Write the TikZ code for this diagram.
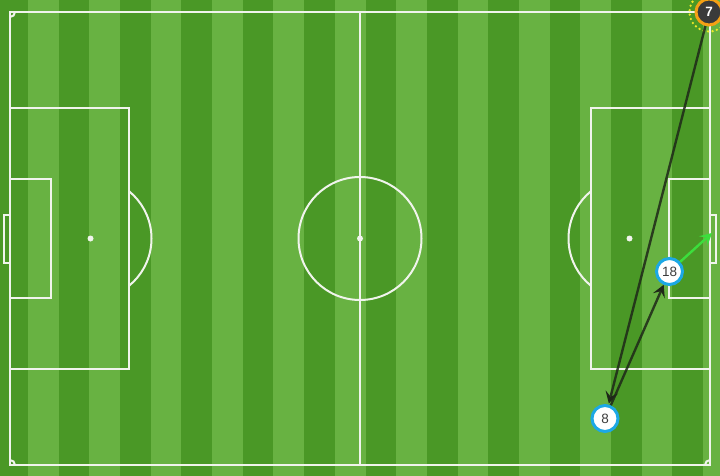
\documentclass[tikz,border=0pt]{standalone}
\usepackage{fontspec}
\setmainfont{Liberation Sans}
\usetikzlibrary{arrows.meta}
\definecolor{grassdark}{RGB}{74,152,38}
\definecolor{grasslight}{RGB}{104,178,66}
\definecolor{pitchline}{RGB}{240,244,236}
\definecolor{ringblue}{RGB}{28,168,230}
\definecolor{ringorange}{RGB}{245,160,20}
\definecolor{dotyellow}{RGB}{238,232,40}
\definecolor{passdark}{RGB}{30,40,24}
\definecolor{passgreen}{RGB}{60,222,60}
\definecolor{numgrey}{RGB}{60,60,60}
\definecolor{chipdark}{RGB}{58,58,58}
\begin{document}
\begin{tikzpicture}[x=1pt,y=-1pt,
  pline/.style={draw=pitchline, line width=2pt},
  chip/.style={circle, minimum size=26pt, inner sep=0pt, line width=3pt, font=\fontsize{13.5}{13.5}\selectfont},
  pass/.style={draw=passdark, draw opacity=0.85, line width=2.4pt, arrows={-Stealth[length=12pt,width=13pt,inset=5pt,line width=0pt]}},
  gpass/.style={pass, draw=passgreen, draw opacity=1}]
\useasboundingbox (0,0) rectangle (720,476);
% grass
\fill[grassdark] (0,0) rectangle (720,476);
\foreach \k in {0,2,...,22}
  \fill[grasslight] ({28+30.682*\k},0) rectangle ({min(28+30.682*(\k+1),720)},476);
% outline and halfway line
\draw[pline] (10,12) rectangle (710,465);
\draw[pline] (360,12) -- (360,465);
\draw[pline] (360,238.5) circle (61.5);
\fill[pitchline] (360,238.5) circle (3);
% left end
\draw[pline] (10,107.6) rectangle (129,369.4);
\draw[pline] (10,178.7) rectangle (50.6,298.3);
\fill[pitchline] (90.5,238.5) circle (3);
\begin{scope}
  \clip (130,150) rectangle (200,330);
  \draw[pline] (90.5,238.5) circle (61);
\end{scope}
\draw[pitchline, line width=1.5pt] (10,215) -- (4,215) -- (4,263) -- (10,263);
% right end
\draw[pline] (591,107.6) rectangle (710,369.4);
\draw[pline] (669.4,178.7) rectangle (710,298.3);
\fill[pitchline] (629.5,238.5) circle (3);
\begin{scope}
  \clip (520,150) rectangle (590,330);
  \draw[pline] (629.5,238.5) circle (61);
\end{scope}
\draw[pitchline, line width=1.5pt] (710,215) -- (716,215) -- (716,263) -- (710,263);
% corner arcs
\begin{scope}
  \clip (10,12) rectangle (20,22);
  \draw[pline] (10,12) circle (5);
\end{scope}
\begin{scope}
  \clip (10,465) rectangle (20,455);
  \draw[pline] (10,465) circle (5);
\end{scope}
\begin{scope}
  \clip (710,465) rectangle (700,455);
  \draw[pline] (710,465) circle (5);
\end{scope}
% players
\coordinate (c7) at (709,12);
\draw[dotyellow, line width=2.6pt, dash pattern=on 0pt off 4.5pt, line cap=round] (c7) circle (19.5);
\node[chip, draw=ringorange, fill=chipdark, text=white, font=\fontsize{13.5}{13.5}\selectfont\bfseries] (p7) at (c7) {7};
\node[chip, draw=ringblue, fill=white, text=numgrey] (p18) at (669.5,271.5) {18};
\node[chip, draw=ringblue, fill=white, text=numgrey] (p8) at (605,418.5) {8};
% passes
\coordinate (g) at (712,233);
\draw[pass, shorten >=1pt] (p7) -- (p8);
\draw[pass] (p8) -- (p18);
\draw[gpass] (p18) -- (g);
\end{tikzpicture}
\end{document}
